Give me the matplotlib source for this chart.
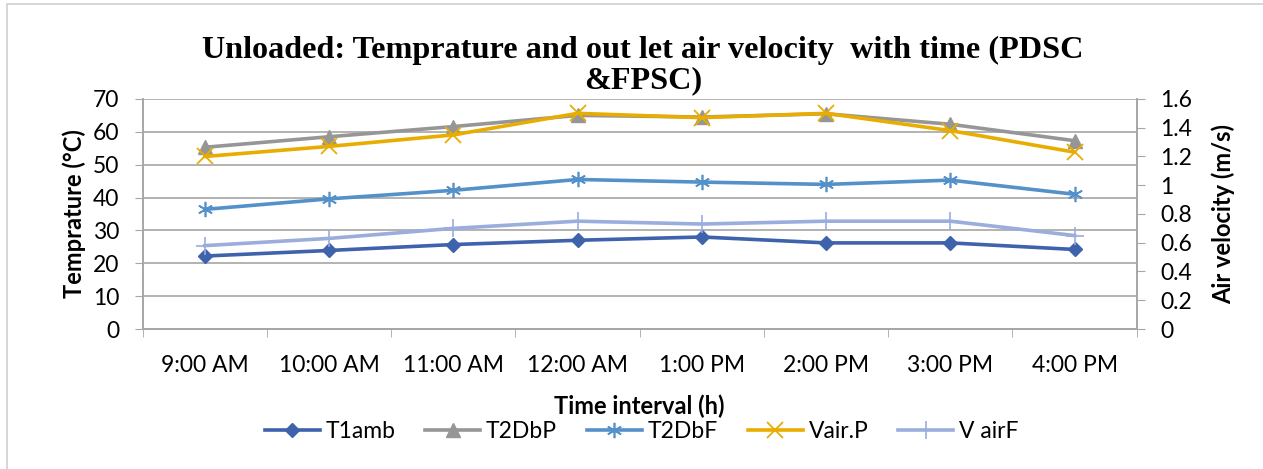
import matplotlib
matplotlib.use("Agg")
import matplotlib.pyplot as plt
from matplotlib.patches import Rectangle

# data
times = ["9:00 AM", "10:00 AM", "11:00 AM", "12:00 AM",
         "1:00 PM", "2:00 PM", "3:00 PM", "4:00 PM"]
t1amb = [22.2, 23.9, 25.7, 27.0, 28.0, 26.2, 26.2, 24.2]
t2dbp = [55.3, 58.5, 61.6, 65.0, 64.5, 65.5, 62.3, 57.3]
t2dbf = [36.4, 39.6, 42.2, 45.5, 44.7, 44.0, 45.3, 41.0]
vair_p = [1.20, 1.27, 1.35, 1.50, 1.47, 1.50, 1.38, 1.23]
vair_f = [0.58, 0.63, 0.70, 0.75, 0.73, 0.75, 0.75, 0.65]
vel_ticks = ["0", "0.2", "0.4", "0.6", "0.8", "1", "1.2", "1.4", "1.6"]

font = "Lato"
fs = 16.5
grid_c = "#a6a6a6"

fig = plt.figure(figsize=(12.63, 4.69), dpi=100)
# chart border (only left and top edges fall inside the image)
fig.patches.append(Rectangle((7 / 1263, -0.1), 1.2, 1.1 - 4 / 469, transform=fig.transFigure,
                             fill=False, edgecolor="#d0d0d0", linewidth=1.2))
ax = fig.add_axes([0.113, 0.2985, 0.787, 0.4905])
ax2 = ax.twinx()

x = list(range(len(times)))
lw = 2.6
h1, = ax.plot(x, t1amb, color="#3e62ac", lw=lw, marker="D", ms=7.5, label="T1amb")
h2, = ax.plot(x, t2dbp, color="#969696", lw=lw, marker="^", ms=9.5, label="T2DbP")
h3, = ax.plot(x, t2dbf, color="#5591c9", lw=lw, marker=(6, 2, 0), ms=11, mew=1.2, label="T2DbF")
h4, = ax2.plot(x, vair_p, color="#e8ad00", lw=lw, marker="x", ms=11, mew=1.3, label="Vair.P")
h5, = ax2.plot(x, vair_f, color="#9aaddd", lw=lw, marker="+", ms=13, mew=1.2, label="V airF")

ax.set_xlim(-0.5, len(times) - 0.5)
ax.set_ylim(0, 70)
ax2.set_ylim(0, 1.6)
ax.set_yticks(range(0, 71, 10))
ax2.set_yticks([float(v) for v in vel_ticks])
ax2.set_yticklabels(vel_ticks)
ax.set_xticks(x)
ax.set_xticklabels(times)
ax.set_xticks([i - 0.5 for i in range(len(times) + 1)], minor=True)
ax.tick_params(axis="x", which="major", length=0, pad=19)
ax.tick_params(axis="x", which="minor", length=6, color=grid_c, direction="out")
ax.tick_params(axis="y", length=6, color=grid_c, pad=11)
ax2.tick_params(axis="y", length=6, color=grid_c, pad=11)
for a in (ax, ax2):
    for lab in a.get_xticklabels() + a.get_yticklabels():
        lab.set_fontfamily(font)
        lab.set_fontsize(fs)

ax.yaxis.grid(True, color=grid_c, lw=1.2)
ax.set_axisbelow(True)
for a in (ax, ax2):
    a.spines["top"].set_visible(False)
    for s in ("left", "right", "bottom"):
        a.spines[s].set_color(grid_c)
        a.spines[s].set_linewidth(1.2)

ax.set_ylabel("Temprature (°C)", fontfamily=font, fontweight="bold", fontsize=17, labelpad=5)
ax2.set_ylabel("Air velocity (m/s)", fontfamily=font, fontweight="bold", fontsize=17, labelpad=14)
ax.set_xlabel("Time interval (h)", fontfamily=font, fontweight="bold", fontsize=17, labelpad=13)

fig.text(0.509, 0.86, "Unloaded: Temprature and out let air velocity  with time (PDSC\n&FPSC)",
         ha="center", va="center", fontfamily="Liberation Serif", fontweight="bold",
         fontsize=23.2, linespacing=1.05)

fig.legend([h1, h2, h3, h4, h5], ["T1amb", "T2DbP", "T2DbF", "Vair.P", "V airF"],
           loc="center", bbox_to_anchor=(0.508, 0.079), ncol=5, frameon=False,
           handlelength=2.4, columnspacing=1.3, handletextpad=0.25,
           prop={"family": font, "size": fs})

fig.savefig("out.png", dpi=100)
